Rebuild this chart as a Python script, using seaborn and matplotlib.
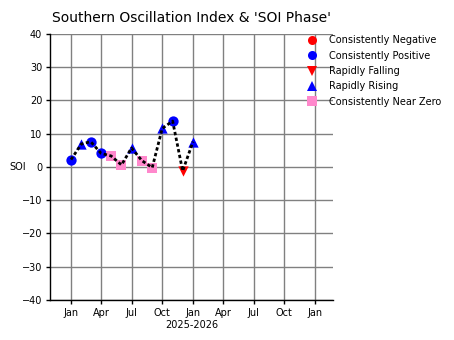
import matplotlib
matplotlib.use("Agg")
import matplotlib.pyplot as plt
import matplotlib.dates as mdates
from matplotlib.lines import Line2D
import seaborn as sns
import pandas as pd

months = ["2025-01", "2025-02", "2025-03", "2025-04", "2025-05", "2025-06", "2025-07",
          "2025-08", "2025-09", "2025-10", "2025-11", "2025-12", "2026-01"]
soi = [2.2, 6.9, 7.6, 4.1, 3.3, 0.6, 5.7, 1.9, -0.2, 11.6, 13.8, -1.2, 7.6]
phase = ["Consistently Positive", "Rapidly Rising", "Consistently Positive", "Consistently Positive",
         "Consistently Near Zero", "Consistently Near Zero", "Rapidly Rising", "Consistently Near Zero",
         "Consistently Near Zero", "Rapidly Rising", "Consistently Positive", "Rapidly Falling",
         "Rapidly Rising"]
phase_order = ["Consistently Negative", "Consistently Positive", "Rapidly Falling",
               "Rapidly Rising", "Consistently Near Zero"]
phase_colors = {"Consistently Negative": "red", "Consistently Positive": "blue",
                "Rapidly Falling": "red", "Rapidly Rising": "blue",
                "Consistently Near Zero": "#ff88cc"}
phase_markers = {"Consistently Negative": "o", "Consistently Positive": "o",
                 "Rapidly Falling": "v", "Rapidly Rising": "^",
                 "Consistently Near Zero": "s"}

df = pd.DataFrame({"date": pd.to_datetime(months), "soi": soi, "phase": phase})

sns.set_style("white")
plt.rcParams['font.family'] = ['DejaVu Sans']
plt.rcParams.update({"text.color": "black", "axes.labelcolor": "black",
                     "xtick.color": "black", "ytick.color": "black"})
fig = plt.figure(figsize=(4.54, 3.4), dpi=100)
ax = fig.add_axes([0.110, 0.118, 0.623, 0.782])

for ph in phase_order:
    sub = df[df["phase"] == ph]
    if len(sub):
        sns.scatterplot(data=sub, x="date", y="soi", ax=ax, color=phase_colors[ph],
                        marker=phase_markers[ph], s=55, linewidth=0, zorder=3, legend=False)
sns.lineplot(data=df, x="date", y="soi", ax=ax, color="black", linestyle=(0, (1.2, 0.9)),
             linewidth=2, zorder=4)

ax.set_xlim(pd.Timestamp("2024-10-30"), pd.Timestamp("2027-02-23"))
ax.set_ylim(-40, 40)
ax.set_yticks(range(-40, 41, 10))
ax.xaxis.set_major_locator(mdates.MonthLocator(bymonth=[1, 4, 7, 10]))
ax.xaxis.set_major_formatter(mdates.DateFormatter("%b"))
ax.grid(True, color="gray", linewidth=1)
ax.set_axisbelow(True)
for s in ["top", "right"]:
    ax.spines[s].set_visible(False)
for s in ["left", "bottom"]:
    ax.spines[s].set_color("black")
    ax.spines[s].set_linewidth(1)
ax.tick_params(axis="both", labelsize=7, length=3, width=1, pad=2.5, color="black",
               labelcolor="black", bottom=True, left=True)
ax.set_xlabel("2025-2026", fontsize=7, labelpad=2, color="black")
ax.set_ylabel("SOI", fontsize=7, rotation=0, labelpad=3, va="center", color="black")
ax.set_title("Southern Oscillation Index & 'SOI Phase'", fontsize=10, pad=9, color="black")

handles = [Line2D([], [], linestyle="none", marker=phase_markers[ph], color=phase_colors[ph],
                  markersize=7.5 if phase_markers[ph] != "o" else 6.5, markeredgewidth=0)
           for ph in phase_order]
leg = ax.legend(handles, phase_order, loc="upper left", bbox_to_anchor=(0.88, 1.01), frameon=False,
                fontsize=7, handletextpad=0.7, labelspacing=0.55, borderaxespad=0)
for t in leg.get_texts():
    t.set_color("black")

fig.savefig("out.png", dpi=100)
